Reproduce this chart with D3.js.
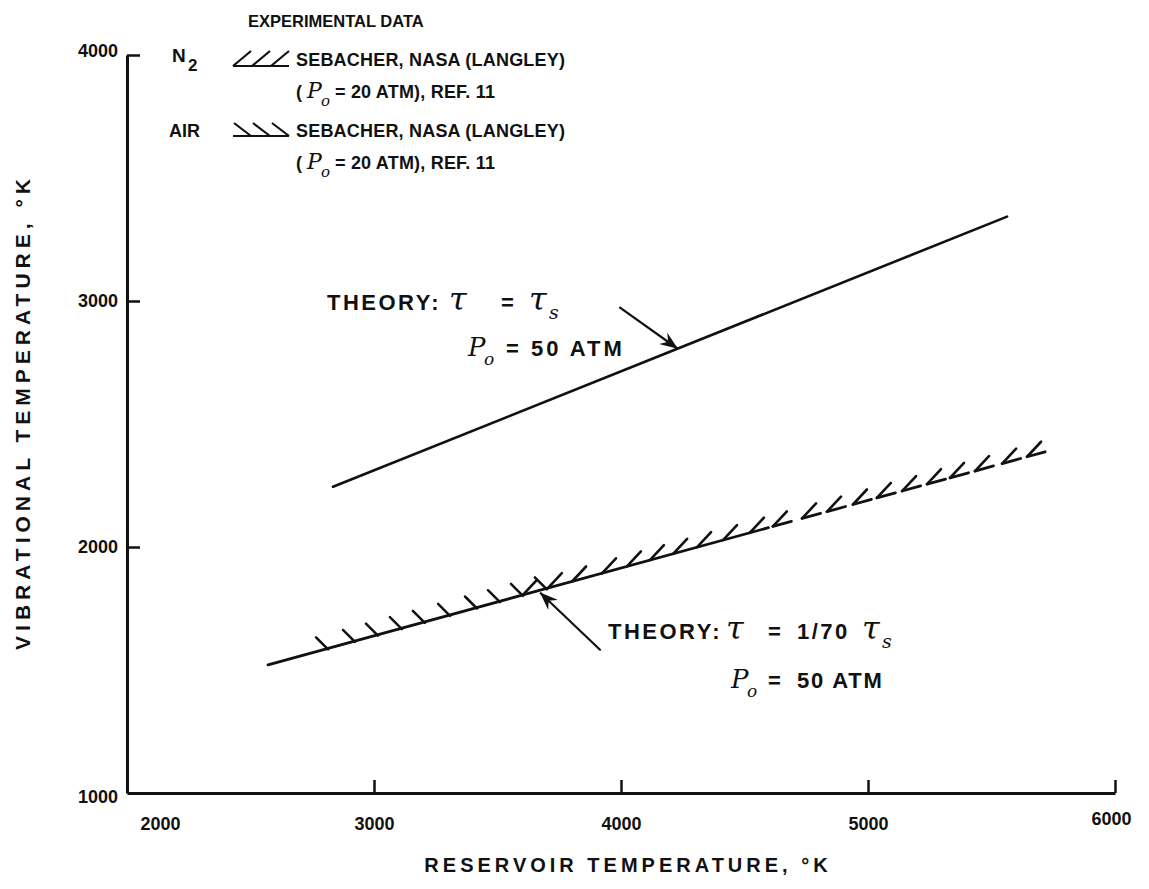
<!DOCTYPE html>
<html>
<head>
<meta charset="UTF-8">
<title>Vibrational temperature vs reservoir temperature</title>
<script src="https://d3js.org/d3.v7.min.js"></script>
<style>
    body { margin: 0; background: #fff; }
    text { font-family: "Liberation Sans", Arial, sans-serif; font-weight: bold; fill: #111; }
    .tick text { font-size: 18px; }
    .serif { font-family: "DejaVu Serif", "Liberation Serif", serif; font-style: italic; font-weight: normal; }
</style>
</head>
<body>
<svg width="1149" height="889"></svg>
<script>
    // axis ticks
    const xTicks = [2000, 3000, 4000, 5000, 6000];
    const yTicks = [1000, 2000, 3000, 4000];

    // theory, tau = tau_s, P0 = 50 atm
    const theoryHighX = [2834, 5563];
    const theoryHighY = [2245, 3343];

    // theory, tau = 1/70 tau_s, P0 = 50 atm (solid part)
    const theoryLowX = [2571, 3603, 4522];
    const theoryLowY = [1521, 1805, 2058];

    // N2 data band (Sebacher), hatched "/"
    const n2BandX = [3603, 4522, 5717];
    const n2BandY = [1805, 2058, 2387];
    const n2Hatch = [3603, 3704, 3802, 3923, 4024, 4117, 4211, 4308, 4413, 4522,
                     4615, 4733, 4834, 4939, 5036, 5138, 5239, 5332, 5433, 5543, 5644];

    // air data band (Sebacher), hatched "\"
    const airBandX = [2571, 3700];
    const airBandY = [1521, 1832];
    const airHatch = [2814, 2923, 3016, 3113, 3206, 3308, 3417, 3510, 3603, 3700];

    // arrows [x1, y1, x2, y2] tail -> tip
    const arrowHigh = [3996, 2973, 4227, 2808];
    const arrowLow = [3915, 1582, 3675, 1812];

    const svg = d3.select("svg");
    const x = d3.scaleLinear().domain([2000, 6000]).range([127, 1115]);
    const y = d3.scaleLinear().domain([1000, 4000]).range([793, 55]);

    svg.append("defs").append("marker")
        .attr("id", "head")
        .attr("markerUnits", "userSpaceOnUse")
        .attr("markerWidth", 18).attr("markerHeight", 14)
        .attr("refX", 17).attr("refY", 7)
        .attr("orient", "auto")
        .append("path")
        .attr("d", "M0,0 L18,7 L0,14 L6,7 Z")
        .attr("fill", "#111");

    // x axis
    const gx = svg.append("g")
        .attr("transform", `translate(0,${y(1000)})`)
        .call(d3.axisBottom(x).tickValues(xTicks).tickSizeInner(-13).tickSizeOuter(0)
            .tickPadding(24).tickFormat(d3.format("d")));
    gx.select(".domain").attr("stroke", "#111").attr("stroke-width", 3);
    gx.selectAll(".tick line").attr("stroke", "#111").attr("stroke-width", 2.5)
        .filter(d => d === 2000).remove();
    gx.selectAll(".tick text").filter(d => d === 2000).attr("dx", 33);
    gx.selectAll(".tick text").filter(d => d === 6000).attr("dy", "0.45em").attr("dx", -4);

    // y axis
    const gy = svg.append("g")
        .attr("transform", `translate(${x(2000)},0)`)
        .call(d3.axisLeft(y).tickValues(yTicks).tickSizeInner(-13).tickSizeOuter(0)
            .tickPadding(9).tickFormat(d3.format("d")));
    gy.select(".domain").attr("stroke", "#111").attr("stroke-width", 3);
    gy.selectAll(".tick line").attr("stroke", "#111").attr("stroke-width", 2.5)
        .filter(d => d === 1000).remove();
    gy.selectAll(".tick text").filter(d => d === 4000).attr("dy", "0.1em");
    gy.selectAll(".tick text").filter(d => d === 1000).attr("dy", "0.5em");

    // axis titles
    svg.append("text")
        .attr("x", 628).attr("y", 872)
        .attr("text-anchor", "middle")
        .style("font-size", "20px").style("letter-spacing", "4px")
        .text("RESERVOIR TEMPERATURE, °K");
    svg.append("text")
        .attr("transform", "translate(30,412) rotate(-90)")
        .attr("text-anchor", "middle")
        .style("font-size", "21px").style("letter-spacing", "5px")
        .text("VIBRATIONAL TEMPERATURE, °K");

    const line = d3.line().x(d => x(d[0])).y(d => y(d[1]));
    const plot = svg.append("g").attr("fill", "none").attr("stroke", "#111")
        .attr("stroke-linecap", "round");

    plot.append("path")
        .attr("d", line(d3.zip(theoryHighX, theoryHighY)))
        .attr("stroke-width", 2.6);
    plot.append("path")
        .attr("d", line(d3.zip(theoryLowX, theoryLowY)))
        .attr("stroke-width", 2.8);

    // hatched bands
    const n2Y = d3.scaleLinear().domain(n2BandX).range(n2BandY);
    const airY = d3.scaleLinear().domain(airBandX).range(airBandY);

    // broken base of the N2 band past the solid theory line
    plot.selectAll(".n2base")
        .data(n2Hatch.filter(d => d >= 4522))
        .join("line")
        .attr("x1", d => x(d)).attr("y1", d => y(n2Y(d)))
        .attr("x2", d => x(Math.min(d + 75, 5717))).attr("y2", d => y(n2Y(Math.min(d + 75, 5717))))
        .attr("stroke-width", 2.8);

    plot.selectAll(".n2hatch")
        .data(n2Hatch)
        .join("line")
        .attr("x1", d => x(d)).attr("y1", d => y(n2Y(d)))
        .attr("x2", d => x(d) + 14).attr("y2", d => y(n2Y(d)) - 15)
        .attr("stroke-width", 2.6);

    plot.selectAll(".airhatch")
        .data(airHatch)
        .join("line")
        .attr("x1", d => x(d) - 12).attr("y1", d => y(airY(d)) - 11)
        .attr("x2", d => x(d)).attr("y2", d => y(airY(d)) + 1)
        .attr("stroke-width", 2.5);

    // arrows
    [arrowHigh, arrowLow].forEach(a => {
        plot.append("line")
            .attr("x1", x(a[0])).attr("y1", y(a[1]))
            .attr("x2", x(a[2])).attr("y2", y(a[3]))
            .attr("stroke-width", 2.2)
            .attr("marker-end", "url(#head)");
    });

    // text helper: pieces placed at their own x
    function label(xp, yp, size, spacing, parts) {
        const g = svg.append("g");
        parts.forEach(p => {
            g.append("text")
                .attr("x", xp + p.dx).attr("y", yp + (p.dy || 0))
                .attr("class", p.serif ? "serif" : null)
                .style("font-size", (p.size || size) + "px")
                .style("letter-spacing", (p.serif ? 0 : spacing) + "px")
                .text(p.t);
        });
    }

    // legend
    label(248, 27, 16.5, 0, [{dx: 0, t: "EXPERIMENTAL DATA"}]);

    label(172, 62, 19, 0, [{dx: 0, t: "N"}, {dx: 16, dy: 9, size: 17, t: "2"}]);
    label(296, 66, 18, 0.2, [{dx: 0, t: "SEBACHER, NASA (LANGLEY)"}]);
    label(296, 98, 18, 0.2, [
        {dx: 0, t: "("},
        {dx: 11, t: "P", serif: true, size: 22},
        {dx: 25, dy: 8, t: "o", serif: true, size: 15},
        {dx: 39, t: "= 20 ATM), REF. 11"}]);

    label(169, 137, 18, 0, [{dx: 0, t: "AIR"}]);
    label(296, 137, 18, 0.2, [{dx: 0, t: "SEBACHER, NASA (LANGLEY)"}]);
    label(296, 169, 18, 0.2, [
        {dx: 0, t: "("},
        {dx: 11, t: "P", serif: true, size: 22},
        {dx: 25, dy: 8, t: "o", serif: true, size: 15},
        {dx: 39, t: "= 20 ATM), REF. 11"}]);

    const sym = svg.append("g").attr("fill", "none").attr("stroke", "#111").attr("stroke-width", 2.2);
    sym.append("path").attr("d", "M233,66H289 M233,66L251,51 M252,66L270,51 M271,66L289,51");
    sym.append("path").attr("d", "M233,136H289 M234,123L251,136 M253,123L270,136 M272,123L289,136");

    // theory annotations
    label(327, 310, 22, 2.5, [
        {dx: 0, t: "THEORY:"},
        {dx: 122, t: "τ", serif: true, size: 32},
        {dx: 174, t: "="},
        {dx: 202, t: "τ", serif: true, size: 32},
        {dx: 222, dy: 9, t: "s", serif: true, size: 19}]);
    label(468, 356, 22, 3, [
        {dx: 0, t: "P", serif: true, size: 26},
        {dx: 16, dy: 9, t: "o", serif: true, size: 17},
        {dx: 38, t: "="},
        {dx: 63, t: "50 ATM"}]);

    label(608, 639, 22, 2.5, [
        {dx: 0, t: "THEORY:"},
        {dx: 118, t: "τ", serif: true, size: 32},
        {dx: 160, t: "="},
        {dx: 189, t: "1/70"},
        {dx: 254, t: "τ", serif: true, size: 32},
        {dx: 274, dy: 9, t: "s", serif: true, size: 19}]);
    label(731, 688, 22, 1.8, [
        {dx: 0, t: "P", serif: true, size: 26},
        {dx: 16, dy: 9, t: "o", serif: true, size: 17},
        {dx: 37, t: "="},
        {dx: 66, t: "50 ATM"}]);
</script>
</body>
</html>
